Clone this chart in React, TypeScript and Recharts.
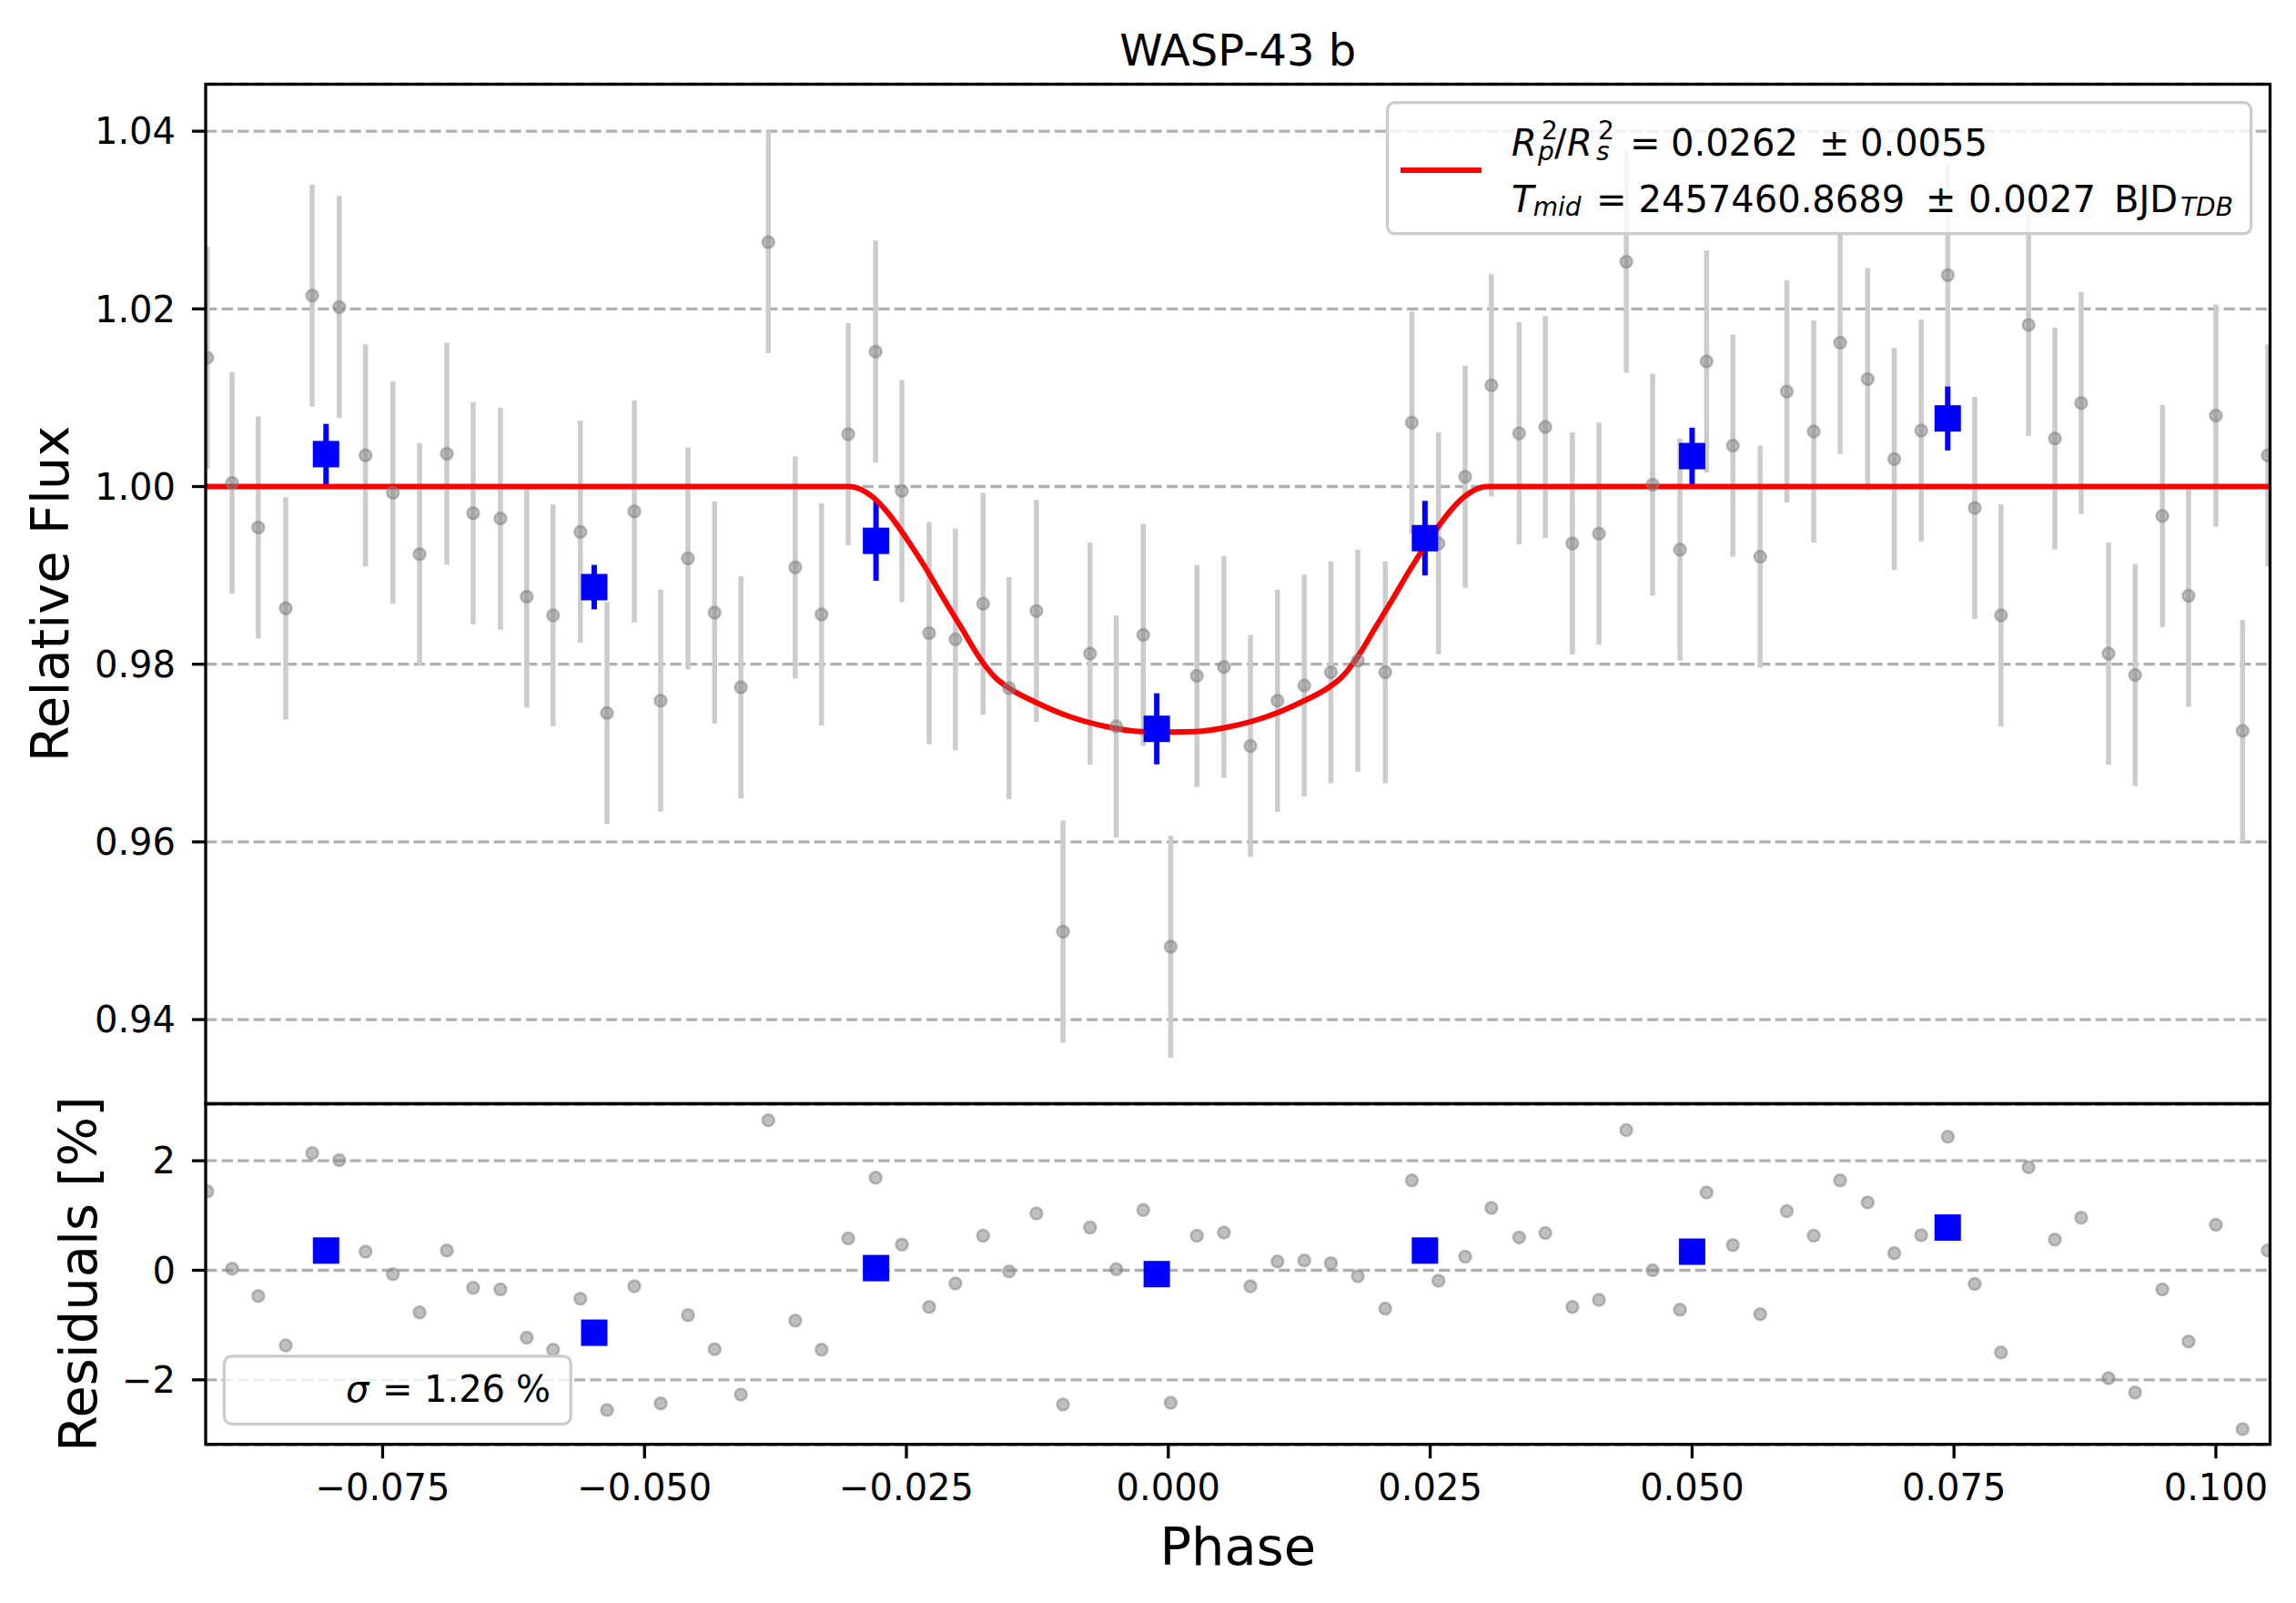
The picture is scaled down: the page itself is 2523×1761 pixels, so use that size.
import React from 'react';
import { ComposedChart, Scatter, Line, XAxis, YAxis, CartesianGrid, ErrorBar } from 'recharts';

// unbinned light curve
const phase = [
  -0.09174, -0.08937, -0.08687, -0.08425, -0.08172, -0.07914, -0.07663, -0.07402, -0.07147, -0.06887,
  -0.06636, -0.06375, -0.06124, -0.05873, -0.05612, -0.05358, -0.05097, -0.04846, -0.04585, -0.04331,
  -0.0408, -0.03818, -0.03561, -0.0331, -0.03055, -0.02794, -0.02543, -0.02283, -0.02032, -0.01768,
  -0.0152, -0.01259, -0.01005, -0.00747, -0.00497, -0.00239, 0.00023, 0.00273, 0.00531, 0.00784,
  0.01042, 0.01298, 0.01552, 0.01809, 0.02071, 0.02325, 0.02579, 0.02834, 0.03084, 0.03349,
  0.03599, 0.03857, 0.04111, 0.04372, 0.04623, 0.04884, 0.05138, 0.05389, 0.0565, 0.05904,
  0.06161, 0.06413, 0.06676, 0.0693, 0.07187, 0.07441, 0.07698, 0.07949, 0.08212, 0.08463,
  0.08714, 0.08975, 0.09229, 0.09489, 0.09739, 0.1, 0.10255, 0.10495,
];
const flux = [
  1.0145, 1.0004, 0.9954, 0.9863, 1.0215, 1.0202, 1.0035, 0.9993, 0.9924, 1.0037,
  0.997, 0.9964, 0.9876, 0.9855, 0.9949, 0.9745, 0.9972, 0.9759, 0.9919, 0.9858,
  0.9774, 1.0275, 0.9909, 0.9856, 1.0059, 1.0152, 0.9995, 0.9835, 0.9828, 0.9868,
  0.9773, 0.986, 0.9499, 0.9812, 0.973, 0.9833, 0.9482, 0.9787, 0.9797, 0.9708,
  0.9759, 0.9776, 0.9791, 0.9804, 0.9791, 1.0072, 0.9936, 1.0011, 1.0114, 1.006,
  1.0067, 0.9936, 0.9947, 1.0253, 1.0002, 0.9929, 1.0141, 1.0046, 0.9921, 1.0107,
  1.0062, 1.0162, 1.0121, 1.0031, 1.0063, 1.0238, 0.9976, 0.9855, 1.0182, 1.0054,
  1.0094, 0.9812, 0.9788, 0.9967, 0.9877, 1.008, 0.9725, 1.0035,
];
const fluxErr = 0.0125;
const residuals = [
  1.44, 0.03, -0.47, -1.37, 2.14, 2.01, 0.34, -0.07, -0.77, 0.36,
  -0.32, -0.35, -1.23, -1.45, -0.52, -2.55, -0.29, -2.43, -0.82, -1.44,
  -2.27, 2.74, -0.92, -1.45, 0.58, 1.69, 0.47, -0.67, -0.24, 0.63,
  -0.02, 1.04, -2.45, 0.78, 0.02, 1.1, -2.42, 0.63, 0.69, -0.29,
  0.16, 0.18, 0.13, -0.11, -0.7, 1.64, -0.19, 0.25, 1.14, 0.6,
  0.68, -0.67, -0.54, 2.56, 0.0, -0.72, 1.42, 0.46, -0.8, 1.08,
  0.63, 1.64, 1.24, 0.31, 0.64, 2.44, -0.25, -1.5, 1.88, 0.56,
  0.96, -1.97, -2.23, -0.35, -1.3, 0.83, -2.9, 0.36,
];

// binned points (10 per bin)
const binPhase = [-0.0804, -0.0548, -0.0279, -0.0011, 0.0245, 0.05, 0.0744];
const binFlux = [1.00365, 0.98868, 0.99389, 0.97273, 0.99419, 1.00343, 1.00767];
const binErr = [0.0034, 0.0025, 0.0045, 0.004, 0.0042, 0.0032, 0.0036];
const binResid = [0.36, -1.14, 0.04, -0.07, 0.36, 0.34, 0.78];

// transit model
const modelPhase = [
  -0.09189, -0.0304, -0.0283, -0.0266, -0.0249, -0.0231, -0.0214, -0.0197, -0.018, -0.0166,
  -0.0152, -0.0128, -0.0094, -0.006, -0.0025, 0.0, 0.0025, 0.006, 0.0094, 0.0128,
  0.0152, 0.0166, 0.018, 0.0197, 0.0214, 0.0231, 0.0249, 0.0266, 0.0283, 0.0304, 0.10517,
];
const modelFlux = [
  1.0, 1.0, 0.9989, 0.9968, 0.994, 0.9907, 0.9873, 0.984, 0.9807, 0.9786,
  0.9773, 0.9758, 0.9741, 0.973, 0.9724, 0.97235, 0.9724, 0.973, 0.9741, 0.9758,
  0.9773, 0.9786, 0.9807, 0.984, 0.9873, 0.9907, 0.994, 0.9968, 0.9989, 1.0, 1.0,
];

const fluxTicks = [0.94, 0.96, 0.98, 1.0, 1.02, 1.04];
const residTicks = [-2, 0, 2];
const phaseTicks = [-0.075, -0.05, -0.025, 0, 0.025, 0.05, 0.075, 0.1];

const points = phase.map((x, i) => ({ x, y: flux[i], err: fluxErr }));
const residPoints = phase.map((x, i) => ({ x, y: residuals[i] }));
const bins = binPhase.map((x, i) => ({ x, y: binFlux[i], err: binErr[i] }));
const binResidPoints = binPhase.map((x, i) => ({ x, y: binResid[i] }));
const model = modelPhase.map((x, i) => ({ x, y: modelFlux[i] }));

const FONT = 'DejaVu Sans';
const minus = (s: string) => s.replace('-', '\u2212');
const tickStyle = { fontSize: 40, fill: '#000', fontFamily: FONT };
const tickLine = { stroke: '#000', strokeWidth: 3.3 };

const GrayDot = (p: any) => (
  <circle cx={p.cx} cy={p.cy} r={6.5} fill="#808080" fillOpacity={0.5}
    stroke="#808080" strokeOpacity={0.5} strokeWidth={2.5} />
);
const BlueSquare = (p: any) => (
  <rect x={p.cx - 14.5} y={p.cy - 14.5} width={29} height={29} fill="#0000ff" />
);

const W = 2523;
const PLOT_L = 226;
const PLOT_R = 2494.5;
const MAIN_T = 92.5;
const MAIN_B = 1212.5;
const RES_B = 1586.7;

export default function App() {
  return (
    <div style={{ position: 'absolute', left: 0, top: 0, width: W, height: 1761, background: '#fff', overflow: 'hidden' }}>
      <div style={{ position: 'absolute', left: 0, top: 0 }}>
        <ComposedChart width={W} height={MAIN_B} margin={{ top: MAIN_T, right: W - PLOT_R, bottom: 0, left: 0 }}>
          <CartesianGrid vertical={false} stroke="#b0b0b0" strokeWidth={3.3} strokeDasharray="12.3 5.3" />
          <XAxis dataKey="x" type="number" hide domain={[-0.09189, 0.10517]} allowDataOverflow />
          <YAxis dataKey="y" type="number" width={PLOT_L} domain={[0.93053, 1.04529]} allowDataOverflow
            ticks={fluxTicks} tickFormatter={(v: number) => v.toFixed(2)} tick={tickStyle}
            tickLine={tickLine} tickSize={15} tickMargin={18} axisLine={false} />
          <Scatter data={points} shape={GrayDot} isAnimationActive={false}>
            <ErrorBar dataKey="err" direction="y" width={0} stroke="#cccccc" strokeWidth={5.5} />
          </Scatter>
          <Scatter data={bins} shape={BlueSquare} isAnimationActive={false}>
            <ErrorBar dataKey="err" direction="y" width={0} stroke="#0000ff" strokeWidth={6} />
          </Scatter>
          <Line data={model} dataKey="y" type="monotone" stroke="#ff0000" strokeWidth={6}
            dot={false} activeDot={false} isAnimationActive={false} />
        </ComposedChart>
      </div>
      <div style={{ position: 'absolute', left: 0, top: MAIN_B }}>
        <ComposedChart width={W} height={RES_B - MAIN_B + 100} margin={{ top: 0, right: W - PLOT_R, bottom: 0, left: 0 }}>
          <CartesianGrid vertical={false} stroke="#b0b0b0" strokeWidth={3.3} strokeDasharray="12.3 5.3" />
          <XAxis dataKey="x" type="number" domain={[-0.09189, 0.10517]} allowDataOverflow height={100}
            ticks={phaseTicks} tickFormatter={(v: number) => minus(v.toFixed(3))} tick={tickStyle}
            tickLine={tickLine} tickSize={15} tickMargin={17} axisLine={false} />
          <YAxis dataKey="y" type="number" width={PLOT_L} domain={[-3.186, 3.033]} allowDataOverflow
            ticks={residTicks} tickFormatter={(v: number) => minus(String(v))} tick={tickStyle}
            tickLine={tickLine} tickSize={15} tickMargin={18} axisLine={false} />
          <Scatter data={residPoints} shape={GrayDot} isAnimationActive={false} />
          <Scatter data={binResidPoints} shape={BlueSquare} isAnimationActive={false} />
        </ComposedChart>
      </div>
      <svg width={W} height={1761} style={{ position: 'absolute', left: 0, top: 0, pointerEvents: 'none' }}
        fontFamily={FONT}>
        <rect x={PLOT_L} y={MAIN_T} width={PLOT_R - PLOT_L} height={MAIN_B - MAIN_T} fill="none" stroke="#000" strokeWidth={3.3} />
        <rect x={PLOT_L} y={MAIN_B} width={PLOT_R - PLOT_L} height={RES_B - MAIN_B} fill="none" stroke="#000" strokeWidth={3.3} />
        <text x={(PLOT_L + PLOT_R) / 2} y={72} fontSize={48} textAnchor="middle">WASP-43 b</text>
        <text x={(PLOT_L + PLOT_R) / 2} y={1719} fontSize={57.5} textAnchor="middle">Phase</text>
        <text transform={`translate(75, ${(MAIN_T + MAIN_B) / 2}) rotate(-90)`} fontSize={57.5} textAnchor="middle">Relative Flux</text>
        <text transform={`translate(106, ${(MAIN_B + RES_B) / 2}) rotate(-90)`} fontSize={57.5} textAnchor="middle">Residuals [%]</text>

        {/* fit legend */}
        <rect x={1524.6} y={112.7} width={949} height={144} rx={8} fill="#fff" fillOpacity={0.8} stroke="#cccccc" strokeWidth={3.3} />
        <line x1={1539} x2={1628} y1={187} y2={187} stroke="#ff0000" strokeWidth={6} />
        <text fontSize={40}>
          <tspan x={1661} y={171} fontStyle="italic">R</tspan>
          <tspan x={1694} y={153} fontSize={28}>2</tspan>
          <tspan x={1690} y={176} fontSize={28} fontStyle="italic">p</tspan>
          <tspan x={1708} y={171}>/</tspan>
          <tspan x={1722} y={171} fontStyle="italic">R</tspan>
          <tspan x={1756} y={153} fontSize={28}>2</tspan>
          <tspan x={1754} y={176} fontSize={28} fontStyle="italic">s</tspan>
          <tspan x={1791} y={171}>=</tspan>
          <tspan x={1836} y={171}>0.0262</tspan>
          <tspan x={1999} y={171}>±</tspan>
          <tspan x={2044} y={171}>0.0055</tspan>
        </text>
        <text fontSize={40}>
          <tspan x={1661} y={232.7} fontStyle="italic">T</tspan>
          <tspan x={1684.7} y={237} fontSize={28} fontStyle="italic">mid</tspan>
          <tspan x={1754} y={232.7}>=</tspan>
          <tspan x={1800.5} y={232.7}>2457460.8689</tspan>
          <tspan x={2116} y={232.7}>±</tspan>
          <tspan x={2163} y={232.7}>0.0027</tspan>
          <tspan x={2323} y={232.7}>BJD</tspan>
          <tspan x={2396} y={237} fontSize={28} fontStyle="italic">TDB</tspan>
        </text>

        {/* residual legend */}
        <rect x={246.4} y={1489.8} width={380.8} height={74.5} rx={8} fill="#fff" fillOpacity={0.8} stroke="#cccccc" strokeWidth={3.3} />
        <text fontSize={40}>
          <tspan x={380} y={1539.7} fontStyle="italic">σ</tspan>
          <tspan x={420} y={1539.7}>=</tspan>
          <tspan x={466} y={1539.7}>1.26</tspan>
          <tspan x={567} y={1539.7}>%</tspan>
        </text>
      </svg>
    </div>
  );
}
